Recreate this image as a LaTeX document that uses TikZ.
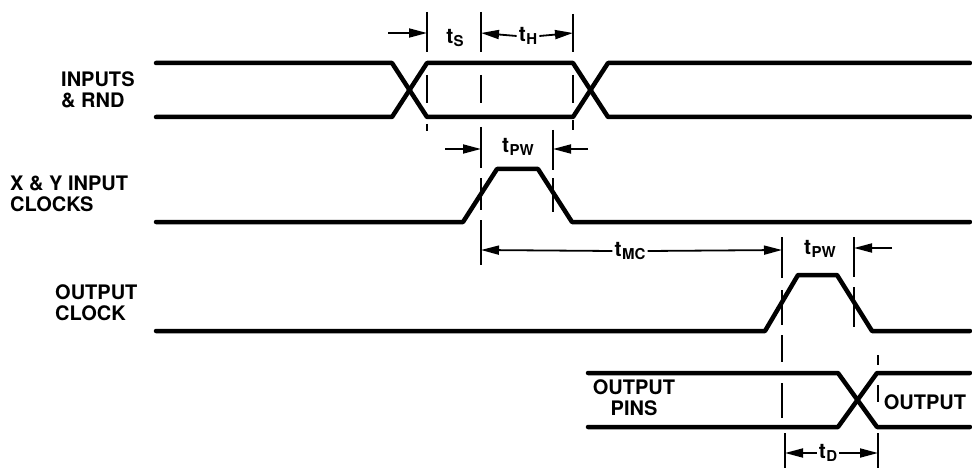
\documentclass[tikz,border=0pt]{standalone}
\usepackage{fontspec}
\setmainfont{TeX Gyre Heros}
\usetikzlibrary{arrows.meta}
\newcommand\tsub[1]{t\kern0.5pt\raisebox{-0.12em}{\fontsize{15}{15}\selectfont #1}}
\begin{document}
\begin{tikzpicture}[x=1pt,y=-1pt,
 wave/.style={line width=4.5pt, line join=round, line cap=round},
 guide/.style={line width=1.6pt},
 dimarr/.style={line width=1.8pt, -{Triangle[length=18pt,width=9pt]}},
 lbl/.style={font=\fontsize{20}{21}\selectfont\bfseries, align=left, inner sep=0pt},
 tlab/.style={font=\fontsize{21}{22}\selectfont\bfseries, inner sep=2pt}]
\useasboundingbox (0,0) rectangle (972,468);
% signal names
\node[lbl, anchor=north west] (inp) at (61,71) {INPUTS\\\& RND};
\node[lbl, anchor=north west] (xy) at (10,176) {X \& Y INPUT\\CLOCKS};
\node[lbl, anchor=north west] (oc) at (55,284) {OUTPUT\\CLOCK};
\node[lbl, align=center] (op) at (634,398) {OUTPUT\\PINS};
\node[lbl] (out) at (925,402) {OUTPUT};
% waveforms
\draw[wave] (156,63) -- (392,63) -- (427,117) -- (573,117) -- (608,63) -- (970,63);
\draw[wave] (156,117) -- (392,117) -- (427,63) -- (573,63) -- (608,117) -- (970,117);
\draw[wave] (156,222) -- (463,222) -- (497,169) -- (538,169) -- (572,222) -- (970,222);
\draw[wave] (156,331) -- (765,331) -- (798,275) -- (837,275) -- (872,331) -- (970,331);
\draw[wave] (588,373) -- (838,373) -- (877,427) -- (970,427);
\draw[wave] (588,427) -- (838,427) -- (877,373) -- (970,373);
% guide lines
\draw[guide] (427,12) -- (427,52) (427,75) -- (427,103) (427,124) -- (427,131);
\draw[guide] (481,12) -- (481,52) (481,75) -- (481,103) (481,127) -- (481,168)
  (481,178) -- (481,210) (481,220) -- (481,265);
\draw[guide] (573,14) -- (573,52) (573,75) -- (573,103) (573,120) -- (573,130);
\draw[guide] (553,130) -- (553,170) (553,178) -- (553,212);
\draw[guide] (782,237) -- (782,278) (782,290) -- (782,325) (782,335) -- (782,362)
  (782,383) -- (782,418);
\draw[guide] (785,433) -- (785,468);
\draw[guide] (854,237) -- (854,277) (854,287) -- (854,327);
\draw[guide] (878,355) -- (878,365) (878,385) -- (878,402) (878,433) -- (878,468);
% dimension labels
\node[tlab] (ts) at (455,38) {\tsub{S}};
\node[tlab] (th) at (528,36) {\tsub{H}};
\node[tlab] (tpw1) at (518,147) {\tsub{PW}};
\node[tlab] (tmc) at (630,251) {\tsub{MC}};
\node[tlab] (tpw2) at (820,249) {\tsub{PW}};
\node[tlab] (td) at (828,453) {\tsub{D}};
% dimension ends
\coordinate (ts0) at (388,33); \coordinate (ts1) at (427,33);
\coordinate (th0) at (481,33); \coordinate (th1) at (573,33);
\coordinate (pa0) at (445,149); \coordinate (pa1) at (481,149);
\coordinate (pb0) at (588,149); \coordinate (pb1) at (553,149);
\coordinate (mc0) at (481,250); \coordinate (mc1) at (782,250);
\coordinate (pc0) at (892,248); \coordinate (pc1) at (854,248);
\coordinate (td0) at (785,453); \coordinate (td1) at (878,453);
% dimension arrows
\draw[dimarr] (ts0) -- (ts1);
\draw[dimarr] (th.west) -- (th0);
\draw[dimarr] (th.east) -- (th1);
\draw[dimarr] (pa0) -- (pa1);
\draw[dimarr] (pb0) -- (pb1);
\draw[dimarr] (tmc.west) -- (mc0);
\draw[dimarr] (tmc.east) -- (mc1);
\draw[dimarr] (pc0) -- (pc1);
\draw[dimarr] (td.west) -- (td0);
\draw[dimarr] (td.east) -- (td1);
\end{tikzpicture}
\end{document}
